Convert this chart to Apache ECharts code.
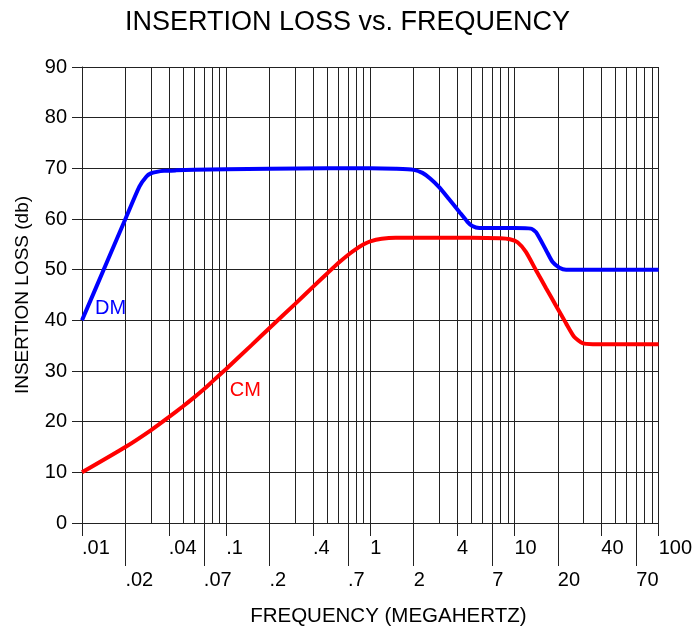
<!DOCTYPE html>
<html>
<head>
<meta charset="utf-8">
<script src="https://cdn.jsdelivr.net/npm/echarts@6/dist/echarts.min.js"></script>
<style>
html,body{margin:0;padding:0;background:#fff;}
#chart{width:695px;height:632px;}
</style>
</head>
<body>
<div id="chart"></div>
<script>
// ---- data ----
const dmFreq = [0.01, 0.015, 0.02, 0.025, 0.028, 0.03, 0.033, 0.037, 0.045, 0.06, 0.1, 0.2, 0.5, 1, 1.5, 2, 2.3, 2.6, 3, 3.5, 4.2, 4.7, 5.1, 5.7, 7, 10, 13, 14.1, 16.6, 18.4, 20.5, 22.8, 30, 50, 100];
const dmLoss = [40, 51.7, 60, 66.4, 68.4, 69.0, 69.3, 69.5, 69.6, 69.7, 69.8, 69.9, 70, 70, 69.9, 69.7, 69.1, 68.0, 66.3, 64.0, 61.2, 59.5, 58.6, 58.2, 58.2, 58.2, 58.1, 57.4, 53.8, 51.5, 50.4, 50.0, 50, 50, 50];
const cmFreq = [0.01, 0.02, 0.03, 0.04, 0.05, 0.06, 0.07, 0.08, 0.1, 0.15, 0.2, 0.3, 0.4, 0.5, 0.6, 0.7, 0.8, 0.9, 1, 1.2, 1.5, 2, 5, 8, 9.3, 10.5, 12, 14.1, 16.6, 19.5, 22.8, 26, 29.7, 35, 50, 100];
const cmLoss = [10, 15.0, 18.3, 20.9, 23.0, 24.8, 26.4, 27.9, 30.4, 35.1, 38.5, 43.2, 46.6, 49.2, 51.3, 52.9, 54.1, 55.0, 55.6, 56.1, 56.3, 56.3, 56.3, 56.2, 56.0, 55.4, 53.5, 49.9, 46.3, 42.8, 39.4, 36.7, 35.5, 35.3, 35.3, 35.3];

const upperTicks = [0.01, 0.04, 0.1, 0.4, 1, 4, 10, 40, 100];
const upperLabels = ['.01', '.04', '.1', '.4', '1', '4', '10', '40', '100'];
const lowerTicks = [0.02, 0.07, 0.2, 0.7, 2, 7, 20, 70];
const lowerLabels = ['.02', '.07', '.2', '.7', '2', '7', '20', '70'];
const decades = [0.01, 0.1, 1, 10];
const mantissas = [1, 2, 3, 4, 5, 6, 7, 8, 9];
const gridFreqs = [];
decades.forEach(d => mantissas.forEach(m => gridFreqs.push(+(d * m).toPrecision(3))));
gridFreqs.push(100);

const yMin = 0, yMax = 90, yStep = 10;
const dmLabelAt = [0.0158, 42.4];
const cmLabelAt = [0.136, 26.2];

function labelFor(ticks, labels) {
  return function (v) {
    for (let i = 0; i < ticks.length; i++) {
      if (Math.abs(Math.log10(v) - Math.log10(ticks[i])) < 1e-6) return labels[i];
    }
    return '';
  };
}

const FONT = 'Liberation Sans, Arial, Helvetica, sans-serif';
const LINE = '#222';

const baseX = {
  type: 'log', logBase: 10, min: 0.01, max: 100, position: 'bottom',
  axisLine: { show: false },
  splitLine: { show: false },
  minorTick: { show: false },
  minorSplitLine: { show: false }
};

const chart = echarts.init(document.getElementById('chart'), null, { renderer: 'canvas' });
chart.setOption({
  animation: false,
  backgroundColor: '#fff',
  title: {
    text: 'INSERTION LOSS vs. FREQUENCY',
    left: 'center', top: 4,
    textStyle: { fontFamily: FONT, fontSize: 27, fontWeight: 'normal', color: '#000' }
  },
  grid: { left: 82, right: 36, top: 67, bottom: 109, containLabel: false },
  xAxis: [
    Object.assign({}, baseX, {
      name: 'FREQUENCY (MEGAHERTZ)', nameLocation: 'middle', nameGap: 83,
      nameTextStyle: { fontFamily: FONT, fontSize: 20.5, color: '#000', verticalAlign: 'top', padding: [0, 0, 0, 36] },
      axisTick: { show: true, customValues: upperTicks, length: 13, lineStyle: { color: LINE, width: 1 } },
      axisLabel: { show: true, customValues: upperTicks, margin: 15, align: 'left', formatter: labelFor(upperTicks, upperLabels),
        fontFamily: FONT, fontSize: 20, color: '#000' }
    }),
    Object.assign({}, baseX, {
      axisTick: { show: true, customValues: lowerTicks, length: 43, lineStyle: { color: LINE, width: 1 } },
      axisLabel: { show: true, customValues: lowerTicks, margin: 47, align: 'left', formatter: labelFor(lowerTicks, lowerLabels),
        fontFamily: FONT, fontSize: 20, color: '#000' }
    }),
    Object.assign({}, baseX, {
      axisTick: { show: true, customValues: gridFreqs, inside: true, length: 456, lineStyle: { color: LINE, width: 1 } },
      axisLabel: { show: false }
    })
  ],
  yAxis: {
    type: 'value', min: yMin, max: yMax, interval: yStep,
    name: 'INSERTION LOSS (db)', nameLocation: 'middle', nameGap: 50,
    nameTextStyle: { fontFamily: FONT, fontSize: 19, color: '#000' },
    axisLine: { show: true, lineStyle: { color: LINE, width: 1 } },
    axisTick: { show: true, length: 10, lineStyle: { color: LINE, width: 1 } },
    axisLabel: { margin: 15, fontFamily: FONT, fontSize: 20, color: '#000' },
    splitLine: { show: true, lineStyle: { color: LINE, width: 1 } }
  },
  series: [
    {
      name: 'DM', type: 'line', xAxisIndex: 0, showSymbol: false, smooth: 0.2,
      data: dmFreq.map((f, i) => [f, dmLoss[i]]),
      lineStyle: { color: '#0000ff', width: 4 }, itemStyle: { color: '#0000ff' },
      markPoint: {
        symbol: 'circle', symbolSize: 0, silent: true,
        label: { show: true, position: 'inside', formatter: 'DM', fontFamily: FONT, fontSize: 20, color: '#0000ff' },
        data: [{ coord: dmLabelAt }]
      }
    },
    {
      name: 'CM', type: 'line', xAxisIndex: 0, showSymbol: false, smooth: 0.2,
      data: cmFreq.map((f, i) => [f, cmLoss[i]]),
      lineStyle: { color: '#ff0000', width: 4 }, itemStyle: { color: '#ff0000' },
      markPoint: {
        symbol: 'circle', symbolSize: 0, silent: true,
        label: { show: true, position: 'inside', formatter: 'CM', fontFamily: FONT, fontSize: 20, color: '#ff0000' },
        data: [{ coord: cmLabelAt }]
      }
    }
  ]
});
</script>
</body>
</html>
